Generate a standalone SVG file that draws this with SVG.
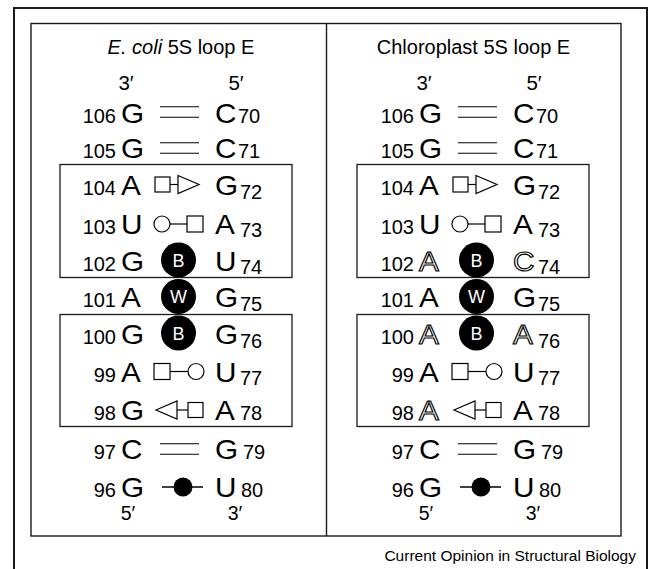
<svg xmlns="http://www.w3.org/2000/svg" width="652" height="569" viewBox="0 0 652 569">
  <style>
    text { font-family: "Liberation Sans", Arial, sans-serif; fill: #000; }
    .title { font-size: 20px; }
    .end { font-size: 20.5px; text-anchor: middle; }
    .end.low { font-size: 19.5px; }
    .num { font-size: 20px; text-anchor: end; }
    .sub { font-size: 20px; }
    .big { font-size: 27px; }
    .hollow { font-size: 27px; fill: #fff; stroke: #000; stroke-width: 1.1px; }
    .edge { font-size: 18px; fill: #fff; text-anchor: middle; }
    .cap { font-size: 15.5px; text-anchor: end; }
    .frame { fill: none; stroke: #1a1a1a; }
    .sym { fill: #fff; stroke: #000; stroke-width: 1.2px; }
    .sym line { stroke: #000; stroke-width: 1.2px; }
    .eq line { stroke: #000; stroke-width: 1.2px; }
    .bead { fill: #000; }
  </style>
  <defs>
    <!-- base-pair edge glyphs, centred on x=0, y=0 -->
    <g id="eq" class="eq">
      <line x1="-19.5" y1="-5.25" x2="19.5" y2="-5.25"/>
      <line x1="-19.5" y1="5.25" x2="19.5" y2="5.25"/>
    </g>
    <g id="sq-tri" class="sym">
      <line x1="-8" y1="0" x2="0" y2="0"/>
      <rect x="-23" y="-7.5" width="15" height="15"/>
      <polygon points="0,-9 21,0 0,9"/>
    </g>
    <g id="ci-sq" class="sym">
      <line x1="-8" y1="0" x2="9" y2="0"/>
      <circle cx="-16" cy="0" r="8"/>
      <rect x="9" y="-8" width="16" height="16"/>
    </g>
    <g id="sq-ci" class="sym">
      <line x1="-8" y1="0" x2="10" y2="0"/>
      <rect x="-24" y="-8" width="16" height="16"/>
      <circle cx="18" cy="0" r="8"/>
    </g>
    <g id="tri-sq" class="sym">
      <line x1="-1" y1="0" x2="10" y2="0"/>
      <polygon points="-22,0 -1,-9 -1,9"/>
      <rect x="10" y="-7.5" width="15" height="15"/>
    </g>
    <g id="dot">
      <line x1="-20.5" y1="0" x2="20.5" y2="0" stroke="#000" stroke-width="1.3"/>
      <circle cx="0.5" cy="0" r="9.5" class="bead"/>
    </g>
  </defs>

  <rect id="outer-frame" class="frame" x="14" y="8" width="633" height="600" stroke-width="2"/>
  <rect id="panel-frame" class="frame" x="31" y="23.5" width="590" height="512.5" stroke-width="1.4"/>
  <line id="panel-divider" x1="326.5" y1="23.5" x2="326.5" y2="536" stroke="#1a1a1a" stroke-width="1.4"/>

  <!-- E. coli loop E -->
  <g id="ecoli">
    <text class="title" x="181" y="54" text-anchor="middle"><tspan font-style="italic">E. coli</tspan> 5S loop E</text>
    <text class="end" x="126" y="90">3′</text>
    <text class="end" x="236" y="90">5′</text>
    <text class="end low" x="128" y="520">5′</text>
    <text class="end low" x="235" y="520">3′</text>

    <g id="ecoli-boxes" class="frame" stroke-width="1.3">
      <rect x="60" y="164.5" width="232" height="113"/>
      <rect x="60" y="314.5" width="232" height="112"/>
    </g>

    <g id="ecoli-pairs">
      <use href="#eq" x="179.5" y="112"/>
      <use href="#eq" x="179.5" y="148"/>
      <use href="#sq-tri" x="178" y="184.5"/>
      <use href="#ci-sq" x="178" y="224"/>
      <use href="#sq-ci" x="178" y="371.5"/>
      <use href="#tri-sq" x="178" y="410"/>
      <use href="#eq" x="179.5" y="449"/>
      <use href="#dot" x="182.5" y="487"/>
      <circle class="bead" cx="178.5" cy="260" r="17.5"/>
      <circle class="bead" cx="178.5" cy="296.5" r="17.5"/>
      <circle class="bead" cx="178.5" cy="333" r="17.5"/>
      <text class="edge" x="178.5" y="266.5">B</text>
      <text class="edge" x="178.5" y="303">W</text>
      <text class="edge" x="178.5" y="339.5">B</text>
    </g>

    <g id="ecoli-strand-3">
      <text class="num" x="116" y="122.5">106</text>
      <text class="num" x="116" y="158">105</text>
      <text class="num" x="116" y="195">104</text>
      <text class="num" x="116" y="233.5">103</text>
      <text class="num" x="116" y="270.5">102</text>
      <text class="num" x="116" y="307">101</text>
      <text class="num" x="116" y="344">100</text>
      <text class="num" x="116" y="381.5">99</text>
      <text class="num" x="116" y="420">98</text>
      <text class="num" x="116" y="459">97</text>
      <text class="num" x="116" y="496.5">96</text>
      <text class="big" transform="translate(121 122.5) scale(1.1 1)">G</text>
      <text class="big" transform="translate(121 158) scale(1.1 1)">G</text>
      <text class="big" transform="translate(121 195) scale(1.1 1)">A</text>
      <text class="big" transform="translate(121 233.5) scale(1.1 1)">U</text>
      <text class="big" transform="translate(121 270.5) scale(1.1 1)">G</text>
      <text class="big" transform="translate(121 307) scale(1.1 1)">A</text>
      <text class="big" transform="translate(121 344) scale(1.1 1)">G</text>
      <text class="big" transform="translate(121 381.5) scale(1.1 1)">A</text>
      <text class="big" transform="translate(121 420) scale(1.1 1)">G</text>
      <text class="big" transform="translate(121 459) scale(1.1 1)">C</text>
      <text class="big" transform="translate(121 496.5) scale(1.1 1)">G</text>
    </g>

    <g id="ecoli-strand-5">
      <text class="big" transform="translate(215 122.5) scale(1.1 1)">C</text>
      <text class="big" transform="translate(215 158) scale(1.1 1)">C</text>
      <text class="big" transform="translate(215 195) scale(1.1 1)">G</text>
      <text class="big" transform="translate(215 233.5) scale(1.1 1)">A</text>
      <text class="big" transform="translate(215 270.5) scale(1.1 1)">U</text>
      <text class="big" transform="translate(215 307) scale(1.1 1)">G</text>
      <text class="big" transform="translate(215 344) scale(1.1 1)">G</text>
      <text class="big" transform="translate(215 381.5) scale(1.1 1)">U</text>
      <text class="big" transform="translate(215 420) scale(1.1 1)">A</text>
      <text class="big" transform="translate(215 459) scale(1.1 1)">G</text>
      <text class="big" transform="translate(215 496.5) scale(1.1 1)">U</text>
      <text class="sub" x="238" y="122.5">70</text>
      <text class="sub" x="238" y="158">71</text>
      <text class="sub" x="240" y="198.5">72</text>
      <text class="sub" x="240" y="237">73</text>
      <text class="sub" x="240" y="274">74</text>
      <text class="sub" x="240" y="310.5">75</text>
      <text class="sub" x="240" y="347.5">76</text>
      <text class="sub" x="240" y="385">77</text>
      <text class="sub" x="240" y="420">78</text>
      <text class="sub" x="243" y="459">79</text>
      <text class="sub" x="241" y="496.5">80</text>
    </g>
  </g>

  <!-- Chloroplast loop E, same layout shifted right -->
  <g id="chloroplast" transform="translate(298 0)">
    <text class="title" x="175.5" y="54" text-anchor="middle">Chloroplast 5S loop E</text>
    <text class="end" x="126" y="90">3′</text>
    <text class="end" x="236" y="90">5′</text>
    <text class="end low" x="128" y="520">5′</text>
    <text class="end low" x="235" y="520">3′</text>

    <g id="chloroplast-boxes" class="frame" stroke-width="1.3">
      <rect x="59" y="164.5" width="232" height="113"/>
      <rect x="59" y="314.5" width="232" height="112"/>
    </g>

    <g id="chloroplast-pairs">
      <use href="#eq" x="179.5" y="112"/>
      <use href="#eq" x="179.5" y="148"/>
      <use href="#sq-tri" x="178" y="184.5"/>
      <use href="#ci-sq" x="178" y="224"/>
      <use href="#sq-ci" x="178" y="371.5"/>
      <use href="#tri-sq" x="178" y="410"/>
      <use href="#eq" x="179.5" y="449"/>
      <use href="#dot" x="182.5" y="487"/>
      <circle class="bead" cx="178.5" cy="260" r="17.5"/>
      <circle class="bead" cx="178.5" cy="296.5" r="17.5"/>
      <circle class="bead" cx="178.5" cy="333" r="17.5"/>
      <text class="edge" x="178.5" y="266.5">B</text>
      <text class="edge" x="178.5" y="303">W</text>
      <text class="edge" x="178.5" y="339.5">B</text>
    </g>

    <g id="chloroplast-strand-3">
      <text class="num" x="116" y="122.5">106</text>
      <text class="num" x="116" y="158">105</text>
      <text class="num" x="116" y="195">104</text>
      <text class="num" x="116" y="233.5">103</text>
      <text class="num" x="116" y="270.5">102</text>
      <text class="num" x="116" y="307">101</text>
      <text class="num" x="116" y="344">100</text>
      <text class="num" x="116" y="381.5">99</text>
      <text class="num" x="116" y="420">98</text>
      <text class="num" x="116" y="459">97</text>
      <text class="num" x="116" y="496.5">96</text>
      <text class="big" transform="translate(121 122.5) scale(1.1 1)">G</text>
      <text class="big" transform="translate(121 158) scale(1.1 1)">G</text>
      <text class="big" transform="translate(121 195) scale(1.1 1)">A</text>
      <text class="big" transform="translate(121 233.5) scale(1.1 1)">U</text>
      <text class="hollow" transform="translate(121 270.5) scale(1.1 1)">A</text>
      <text class="big" transform="translate(121 307) scale(1.1 1)">A</text>
      <text class="hollow" transform="translate(121 344) scale(1.1 1)">A</text>
      <text class="big" transform="translate(121 381.5) scale(1.1 1)">A</text>
      <text class="hollow" transform="translate(121 420) scale(1.1 1)">A</text>
      <text class="big" transform="translate(121 459) scale(1.1 1)">C</text>
      <text class="big" transform="translate(121 496.5) scale(1.1 1)">G</text>
    </g>

    <g id="chloroplast-strand-5">
      <text class="big" transform="translate(215 122.5) scale(1.1 1)">C</text>
      <text class="big" transform="translate(215 158) scale(1.1 1)">C</text>
      <text class="big" transform="translate(215 195) scale(1.1 1)">G</text>
      <text class="big" transform="translate(215 233.5) scale(1.1 1)">A</text>
      <text class="hollow" transform="translate(215 270.5) scale(1.1 1)">C</text>
      <text class="big" transform="translate(215 307) scale(1.1 1)">G</text>
      <text class="hollow" transform="translate(215 344) scale(1.1 1)">A</text>
      <text class="big" transform="translate(215 381.5) scale(1.1 1)">U</text>
      <text class="big" transform="translate(215 420) scale(1.1 1)">A</text>
      <text class="big" transform="translate(215 459) scale(1.1 1)">G</text>
      <text class="big" transform="translate(215 496.5) scale(1.1 1)">U</text>
      <text class="sub" x="238" y="122.5">70</text>
      <text class="sub" x="238" y="158">71</text>
      <text class="sub" x="240" y="198.5">72</text>
      <text class="sub" x="240" y="237">73</text>
      <text class="sub" x="240" y="274">74</text>
      <text class="sub" x="240" y="310.5">75</text>
      <text class="sub" x="240" y="347.5">76</text>
      <text class="sub" x="240" y="385">77</text>
      <text class="sub" x="240" y="420">78</text>
      <text class="sub" x="243" y="459">79</text>
      <text class="sub" x="241" y="496.5">80</text>
    </g>
  </g>

  <text id="caption" class="cap" x="636" y="561">Current Opinion in Structural Biology</text>
</svg>
